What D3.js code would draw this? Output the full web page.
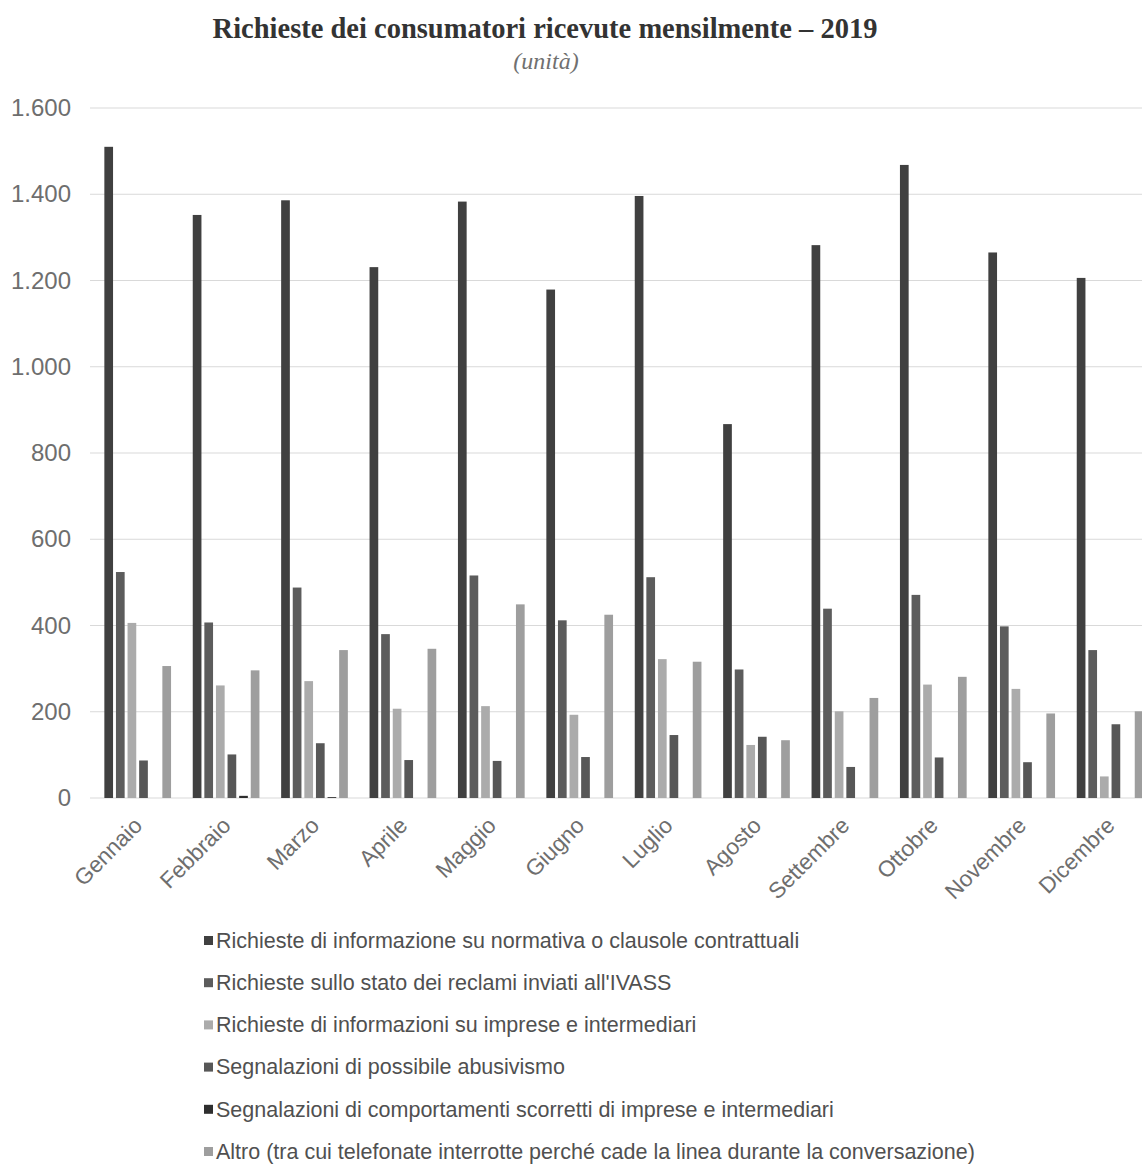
<!DOCTYPE html>
<html>
<head>
<meta charset="utf-8">
<script src="https://cdn.jsdelivr.net/npm/d3@7"></script>
<style>
  html, body { margin: 0; padding: 0; background: #fff; }
  svg { display: block; }
</style>
</head>
<body>
<svg id="chart" width="1142" height="1165"></svg>
<script>
const months = ["Gennaio","Febbraio","Marzo","Aprile","Maggio","Giugno","Luglio","Agosto","Settembre","Ottobre","Novembre","Dicembre"];
const seriesNames = [
  "Richieste di informazione su normativa o clausole contrattuali",
  "Richieste sullo stato dei reclami inviati all'IVASS",
  "Richieste di informazioni su imprese e intermediari",
  "Segnalazioni di possibile abusivismo",
  "Segnalazioni di comportamenti scorretti di imprese e intermediari",
  "Altro (tra cui telefonate interrotte perché cade la linea durante la conversazione)"
];
const normativa   = [1510,1352,1386,1231,1383,1179,1396,867,1282,1468,1265,1206];
const reclami     = [524,407,488,380,516,412,512,298,439,471,398,343];
const imprese     = [406,261,271,207,213,193,322,123,201,263,253,50];
const abusivismo  = [87,101,127,88,86,95,146,142,72,94,83,171];
const scorretti   = [0,5,2,0,0,0,0,0,0,0,0,0];
const altro       = [306,296,343,346,449,425,316,134,232,281,196,201];
const yTicks = [0,200,400,600,800,1000,1200,1400,1600];
const title = "Richieste dei consumatori ricevute mensilmente \u2013 2019";
const subtitle = "(unità)";

const seriesValues = [normativa, reclami, imprese, abusivismo, scorretti, altro];
const colors = ["#404040","#5c5c5c","#ababab","#575757","#2e2e2e","#9e9e9e"];

const svg = d3.select("#chart");
const fmt = d3.formatLocale({decimal: ",", thousands: ".", grouping: [3], currency: ["€", ""]}).format(",d");

const x0 = d3.scaleBand().domain(months).range([93.5, 1154.3]).paddingInner(0).paddingOuter(0);
const x1 = d3.scaleBand().domain(d3.range(seriesNames.length)).range([0, x0.bandwidth()]).paddingInner(0.25).paddingOuter(0.935);
const y = d3.scaleLinear().domain([0, 1600]).range([798, 108]);

// Title
svg.append("text").attr("x", 545).attr("y", 38).attr("text-anchor", "middle")
  .attr("font-family", "'Liberation Serif', 'DejaVu Serif', serif").attr("font-weight", "bold")
  .attr("font-size", 28.5).attr("fill", "#333").text(title);
svg.append("text").attr("x", 546).attr("y", 69).attr("text-anchor", "middle")
  .attr("font-family", "'Liberation Serif', 'DejaVu Serif', serif").attr("font-style", "italic")
  .attr("font-size", 24).attr("fill", "#707070").text(subtitle);

// Gridlines
svg.append("g").selectAll("line").data(yTicks).join("line")
  .attr("x1", 90).attr("x2", 1142)
  .attr("y1", d => y(d)).attr("y2", d => y(d))
  .attr("stroke", "#d9d9d9").attr("stroke-width", 1.2);

// Y axis labels
const yAxis = d3.axisLeft(y).tickValues(yTicks).tickFormat(fmt).tickSize(0).tickPadding(0);
const yg = svg.append("g").attr("transform", "translate(71,0)").call(yAxis);
yg.select(".domain").remove();
yg.selectAll("text").attr("font-family", "'Liberation Sans', Arial, sans-serif")
  .attr("font-size", 24).attr("fill", "#6e6e6e");

// Bars
const groups = svg.append("g").selectAll("g").data(months).join("g")
  .attr("transform", d => `translate(${x0(d)},0)`);
groups.selectAll("rect").data((m, i) => seriesValues.map((vals, s) => ({s, v: vals[i]}))).join("rect")
  .attr("x", d => x1(d.s)).attr("width", x1.bandwidth())
  .attr("y", d => y(d.v)).attr("height", d => y(0) - y(d.v))
  .attr("fill", d => colors[d.s]);

// X axis labels
const xAxis = d3.axisBottom(x0).tickSize(0).tickPadding(0);
const xg = svg.append("g").attr("transform", "translate(0,798)").call(xAxis);
xg.select(".domain").remove();
xg.selectAll("text")
  .attr("font-family", "'Liberation Sans', Arial, sans-serif")
  .attr("font-size", 22.5).attr("fill", "#6e6e6e")
  .attr("text-anchor", "end").attr("dy", null).attr("y", 0)
  .attr("transform", "translate(6,29) rotate(-45)");

// Legend
const legend = svg.append("g").selectAll("g").data(seriesNames).join("g")
  .attr("transform", (d, i) => `translate(204,${941 + i * 42.2})`);
legend.append("rect").attr("x", 0).attr("y", -5).attr("width", 9).attr("height", 9)
  .attr("fill", (d, i) => colors[i]);
legend.append("text").attr("x", 12).attr("y", 0).attr("dy", "0.32em")
  .attr("font-family", "'Liberation Sans', Arial, sans-serif")
  .attr("font-size", 21.5).attr("fill", "#505050").text(d => d);
</script>
</body>
</html>
